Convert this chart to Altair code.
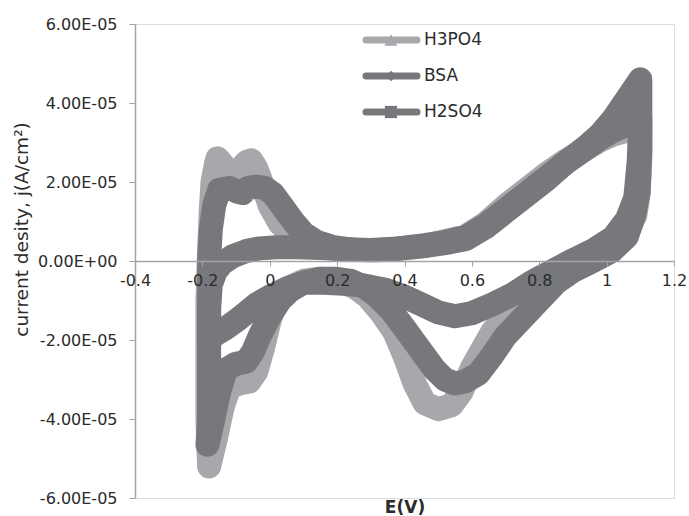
import altair as alt
import pandas as pd

# ---------------- data (current density in units of 1e-5 A/cm2) ----------------
series_names = ["H3PO4", "BSA", "H2SO4"]
series_colors = ["#a7a8ab", "#77787c", "#77787c"]

h3po4_E = [-0.18, -0.185, -0.185, -0.185, -0.18, -0.175, -0.17, -0.16, -0.155, -0.14, -0.12, -0.11,
           -0.09, -0.07, -0.055, -0.04, -0.02, 0.0, 0.03, 0.07, 0.12, 0.2, 0.3, 0.38, 0.46, 0.52,
           0.58, 0.64, 0.7, 0.76, 0.82, 0.88, 0.94, 0.98, 1.02, 1.06, 1.1,
           1.1, 1.095, 1.085, 1.06, 1.02, 0.96, 0.9, 0.84, 0.78, 0.72, 0.66, 0.6, 0.57, 0.54, 0.5,
           0.46, 0.43, 0.4, 0.37, 0.33, 0.29, 0.25, 0.2, 0.15, 0.1, 0.05, 0.02, 0.0, -0.02, -0.04,
           -0.06, -0.09, -0.12, -0.14, -0.16, -0.18]
h3po4_j = [-5.2, -4.0, -2.5, -1.0, 0.3, 1.3, 2.0, 2.45, 2.6, 2.45, 2.2, 2.15,
           2.3, 2.5, 2.55, 2.35, 1.9, 1.4, 0.95, 0.6, 0.4, 0.3, 0.27, 0.3, 0.38, 0.5,
           0.62, 0.95, 1.4, 1.8, 2.2, 2.55, 2.85, 3.05, 3.2, 3.3, 3.4,
           2.6, 1.7, 1.15, 0.85, 0.5, 0.22, -0.02, -0.28, -0.65, -1.2, -1.8, -2.7, -3.3, -3.65, -3.75,
           -3.6, -3.1, -2.4, -1.8, -1.3, -0.9, -0.65, -0.5, -0.45, -0.5, -0.7, -1.0, -1.5, -2.2, -2.8,
           -3.05, -3.1, -3.2, -3.7, -4.5, -5.2]

bsa_E = [-0.18, -0.18, -0.175, -0.16, -0.14, -0.11, -0.07, -0.03, 0.02, 0.08, 0.15, 0.22, 0.3,
         0.38, 0.46, 0.52, 0.58, 0.64, 0.7, 0.76, 0.82, 0.88, 0.94, 0.98, 1.02, 1.06, 1.1,
         1.1, 1.095, 1.085, 1.06, 1.02, 0.96, 0.9, 0.84, 0.78, 0.72, 0.66, 0.6, 0.55, 0.5, 0.45,
         0.4, 0.34, 0.28, 0.22, 0.16, 0.1, 0.05, 0.0, -0.04, -0.09, -0.13, -0.16, -0.18]
bsa_j = [-2.0, -1.2, -0.6, -0.25, -0.05, 0.12, 0.25, 0.32, 0.35, 0.35, 0.33, 0.3, 0.28,
         0.32, 0.4, 0.48, 0.6, 0.9, 1.3, 1.7, 2.1, 2.5, 2.9, 3.2, 3.6, 4.1, 4.6,
         3.5, 2.5, 1.6, 1.05, 0.6, 0.27, 0.02, -0.25, -0.52, -0.85, -1.1, -1.32, -1.4, -1.3, -1.1,
         -0.9, -0.72, -0.62, -0.58, -0.55, -0.55, -0.7, -0.9, -1.1, -1.45, -1.7, -1.85, -2.0]

h2so4_E = [-0.185, -0.18, -0.18, -0.18, -0.18, -0.18, -0.175, -0.165, -0.15, -0.12, -0.095, -0.08,
           -0.065, -0.04, -0.015, 0.01, 0.04, 0.07, 0.1, 0.14, 0.19, 0.25, 0.32, 0.4, 0.46, 0.52,
           0.58, 0.64, 0.7, 0.76, 0.82, 0.88, 0.94, 0.98, 1.02, 1.06, 1.1,
           1.1, 1.095, 1.08, 1.06, 1.015, 0.96, 0.9, 0.85, 0.8, 0.75, 0.7, 0.66, 0.62, 0.58, 0.55,
           0.52, 0.49, 0.46, 0.43, 0.4, 0.36, 0.32, 0.28, 0.24, 0.2, 0.15, 0.1, 0.06, 0.03, 0.0,
           -0.03, -0.05, -0.07, -0.1, -0.13, -0.15, -0.17, -0.185]
h2so4_j = [-4.65, -4.0, -3.0, -2.0, -1.0, 0.0, 0.8, 1.4, 1.8, 1.85, 1.75, 1.72,
           1.85, 1.88, 1.85, 1.7, 1.35, 1.0, 0.7, 0.48, 0.35, 0.28, 0.27, 0.33, 0.38, 0.45,
           0.55, 0.85, 1.25, 1.65, 2.05, 2.5, 2.85, 3.1, 3.3, 3.45, 3.6,
           2.8, 1.75, 1.1, 0.62, 0.25, 0.0, -0.25, -0.55, -1.0, -1.45, -1.9, -2.4, -2.85, -3.05,
           -3.1, -3.0, -2.75, -2.4, -2.05, -1.7, -1.25, -0.9, -0.65, -0.5, -0.45, -0.45, -0.55,
           -0.75, -1.0, -1.4, -1.9, -2.3, -2.55, -2.6, -2.75, -3.3, -4.1, -4.65]

x_ticks = [-0.4, -0.2, 0, 0.2, 0.4, 0.6, 0.8, 1, 1.2]
y_ticks = [-6, -4, -2, 0, 2, 4, 6]

# ---------------- table ----------------
rows = []
for name, E, J in [("H3PO4", h3po4_E, h3po4_j), ("BSA", bsa_E, bsa_j), ("H2SO4", h2so4_E, h2so4_j)]:
    for i, (e, j) in enumerate(zip(E, J)):
        rows.append({"series": name, "E": e, "j": j, "idx": i})
df = pd.DataFrame(rows)

FONT = "DejaVu Sans"
TXT = "#2b2b2b"
AX = "#a3a3a3"

x_enc = alt.X(
    "E:Q",
    scale=alt.Scale(domain=[-0.4, 1.2], nice=False, zero=False),
    axis=alt.Axis(
        values=x_ticks, offset=-237, grid=False, labelFlush=False, zindex=1,
        labelExpr="(datum.value < 0 ? '-' : '') + format(abs(datum.value), '~g')",
        domainColor=AX, domainWidth=1.5, tickColor=AX, tickSize=5, labelPadding=6,
        labelFontSize=16, labelColor=TXT, labelFont=FONT,
        title="E(V)", titleFont=FONT, titleFontSize=17, titleFontWeight="bold", titleColor=TXT,
        titleY=251, titleBaseline="alphabetic",
    ),
)
y_enc = alt.Y(
    "j:Q",
    scale=alt.Scale(domain=[-6, 6], nice=False),
    axis=alt.Axis(
        values=y_ticks, grid=False,
        labelExpr="datum.value == 0 ? '0.00E+00' : (datum.value < 0 ? '-' : '') + format(abs(datum.value), '.2f') + 'E-05'",
        domainColor=AX, domainWidth=1.5, tickColor=AX, tickSize=6, labelPadding=12,
        labelFontSize=16, labelColor=TXT, labelFont=FONT,
        title="current desity, j(A/cm²)", titleFont=FONT, titleFontSize=18.5, titleFontWeight="normal",
        titleColor=TXT, titleX=-114, titleY=205, titleBaseline="middle", titleAlign="center",
    ),
)
color_enc = alt.Color("series:N", scale=alt.Scale(domain=series_names, range=series_colors), legend=None)

base = alt.Chart(df).mark_line(strokeWidth=24, strokeJoin="round", strokeCap="round").encode(
    x=x_enc, y=y_enc, color=color_enc, order="idx:Q"
)

layers = [base.transform_filter(alt.datum.series == s) for s in series_names]

# ---------------- legend (drawn manually) ----------------
shapes = ["triangle-up", "diamond", "square"]
marker_sizes = [170, 110, 150]
leg_y = [16, 52, 88]
for name, c, shp, ms, yy in zip(series_names, series_colors, shapes, marker_sizes, leg_y):
    ld = pd.DataFrame({"series": [name]})
    layers.append(alt.Chart(ld).mark_rule(strokeWidth=7, color=c, strokeCap="round").encode(
        x=alt.value(231), x2=alt.value(282), y=alt.value(yy)))
    layers.append(alt.Chart(ld).mark_point(shape=shp, filled=True, size=ms, color=c, opacity=1).encode(
        x=alt.value(256), y=alt.value(yy)))
    layers.append(alt.Chart(ld).mark_text(align="left", baseline="middle", fontSize=17, font=FONT, color=TXT).encode(
        x=alt.value(289), y=alt.value(yy), text="series:N"))

chart = alt.layer(*layers).properties(
    width=539, height=474,
    autosize=alt.AutoSizeParams(type="none"),
    padding={"left": 135, "top": 24, "right": 15, "bottom": 18},
).configure_view(stroke=None).configure(background="white")

chart.save("out.html", embed_options={"renderer": "svg", "actions": False})
